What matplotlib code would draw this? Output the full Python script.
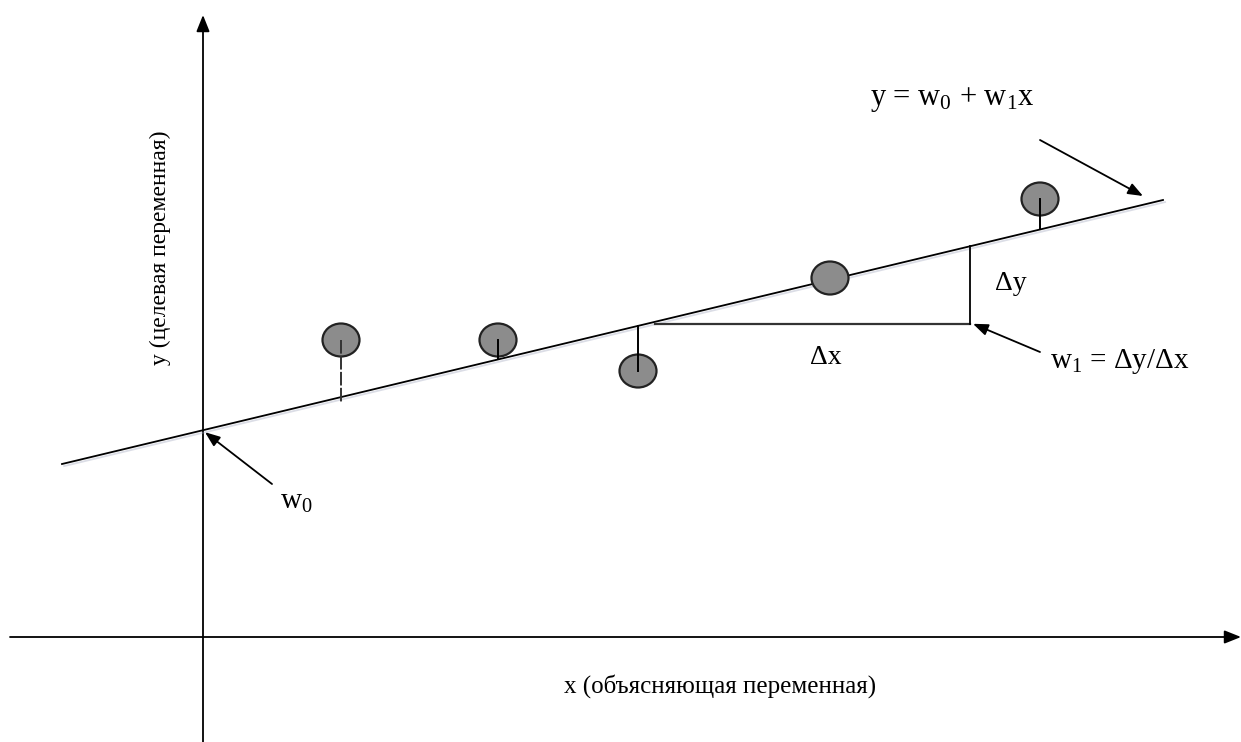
import matplotlib
matplotlib.use('Agg')
import numpy as np
import matplotlib.pyplot as plt
from matplotlib.patches import Ellipse
import matplotlib.patheffects as pe

plt.rcParams['font.family'] = ['Liberation Serif', 'DejaVu Serif']
plt.rcParams['mathtext.fontset'] = 'custom'
plt.rcParams['mathtext.rm'] = 'Liberation Serif'
plt.rcParams['mathtext.it'] = 'Liberation Serif'

# ── data (diagram units, origin at the axes crossing) ───────────────────────
pt_x = [138, 295, 435, 627, 837]
pt_y = [297, 297, 266, 359, 438]
show_resid = [True, True, True, False, True]
resid_dashed = [True, False, False, False, False]

w0 = 206.8          # intercept
w1 = 0.2398         # slope
line_x = [-141, 960]
tri_x = [452, 767]  # Δx run along the line

x_label = 'x (объясняющая переменная)'
y_label = 'y (целевая переменная)'

SHADOW = [pe.SimpleLineShadow(offset=(1.5, -1.5), shadow_color='#9aa0b8', alpha=0.35),
          pe.Normal()]

fig = plt.figure(figsize=(12.41, 7.42), dpi=100)
ax = fig.add_axes([0, 0, 1, 1])
ax.set_xlim(-203, 1038)
ax.set_ylim(-105, 637)
ax.axis('off')

arrow_kw = dict(arrowstyle='-|>,head_length=1.0,head_width=0.4', color='black',
                lw=1.3, shrinkA=0, shrinkB=0)

# coordinate axes
ax.annotate('', xy=(1038, 0), xytext=(-193, 0), arrowprops=arrow_kw)
ax.annotate('', xy=(0, 622), xytext=(0, -105), arrowprops=arrow_kw)

# regression line
lx = np.array(line_x, dtype=float)
ax.plot(lx, w0 + w1 * lx, color='black', lw=1.3, zorder=3, path_effects=SHADOW)

# observations
for x, y, r, d in zip(pt_x, pt_y, show_resid, resid_dashed):
    ax.add_patch(Ellipse((x, y), 37, 33, facecolor='#8c8c8c', edgecolor='#222222',
                         lw=1.6, zorder=4))
    if r:
        yl = w0 + w1 * x
        ax.plot([x, x], [y, yl - (6 if d else 0)], color='#333333' if d else 'black',
                lw=1.4, ls=(0, (7, 1.2)) if d else '-', zorder=5)

# slope triangle
ty = w0 + w1 * np.array(tri_x, dtype=float)
ax.plot([tri_x[0], tri_x[1]], [ty[0] - 2, ty[0] - 2], color='#333333', lw=1.6, zorder=3)
ax.plot([tri_x[1], tri_x[1]], [ty[0] - 2, ty[1]], color='black', lw=1.3, zorder=3)

ann_kw = dict(arrowstyle='-|>,head_length=0.9,head_width=0.35', color='black',
              lw=1.3, shrinkA=0, shrinkB=0)
ax.annotate('', xy=(940, 441), xytext=(837, 497), arrowprops=ann_kw)
ax.annotate('', xy=(tri_x[1] + 3, ty[0] - 2), xytext=(837, 285), arrowprops=ann_kw)
ax.annotate('', xy=(2, w0 - 2), xytext=(69, 153), arrowprops=ann_kw)

fs = 21
ax.text(667, 537, r'y = w$\mathregular{_0}$ + w$\mathregular{_1}$x', fontsize=22,
        ha='left', va='center')
ax.text(792, 354, r'Δy', fontsize=20, ha='left', va='center')
ax.text(607, 279, r'Δx', fontsize=20, ha='left', va='center')
ax.text(847, 275, r'w$\mathregular{_1}$ = Δy/Δx', fontsize=fs, ha='left', va='center')
ax.text(77, 135, r'w$\mathregular{_0}$', fontsize=fs, ha='left', va='center')
ax.text(517, -49, x_label, fontsize=18, ha='center', va='center')
ax.text(-43, 389, y_label, fontsize=17, ha='center', va='center', rotation=90)

fig.savefig('out.png', dpi=100)
